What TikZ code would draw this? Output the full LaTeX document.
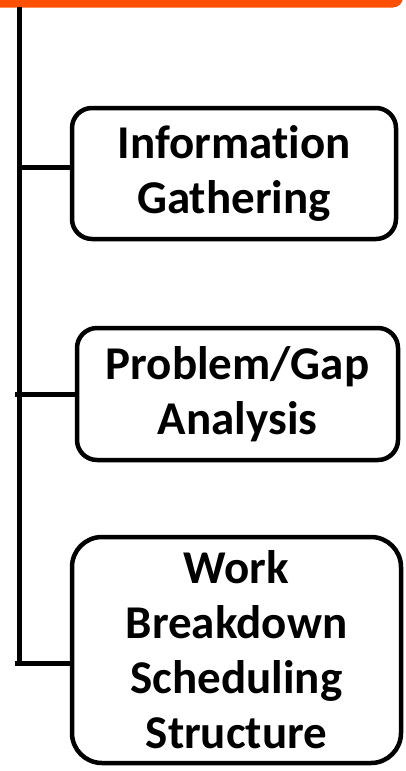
\documentclass[tikz,border=0pt]{standalone}
\usepackage{fontspec}
\setmainfont{Carlito}[Ligatures=NoCommon]
\begin{document}
\begin{tikzpicture}[x=1pt,y=-1pt,
  stepbox/.style={draw=black, line width=4.5pt, fill=white, align=center,
    inner sep=0pt, font=\bfseries\fontsize{47}{55}\selectfont},
  trunk/.style={line width=5pt, draw=black}]
\useasboundingbox (0,0) rectangle (405,771);
% orange header bar (cropped)
\definecolor{hdr}{RGB}{255,80,0}
\fill[hdr, rounded corners=10pt] (-20,-40) rectangle (403,7.5);
% boxes
\node[stepbox, rounded corners=20pt, minimum width=324pt, minimum height=131pt] (b1) at (234,173.5) {Information\\Gathering};
\node[stepbox, rounded corners=20pt, minimum width=321pt, minimum height=132pt] (b2) at (237.5,394) {Problem/Gap\\Analysis};
\node[stepbox, rounded corners=30pt, minimum width=329pt, minimum height=226pt] (b3) at (236.5,650) {Work\\Breakdown\\Scheduling\\Structure};
% trunk
\coordinate (top) at (19.5,7);
\coordinate (c1) at (19.5,167);
\coordinate (c2) at (15,394);
\coordinate (c3) at (15,663);
\coordinate (bot) at (19.5,663);
\draw[trunk] (top) -- (bot);
\draw[trunk] (c1) -- (c1 -| b1.west);
\draw[trunk] (c2) -- (c2 -| b2.west);
\draw[trunk] (c3) -- (c3 -| b3.west);
\end{tikzpicture}
\end{document}
